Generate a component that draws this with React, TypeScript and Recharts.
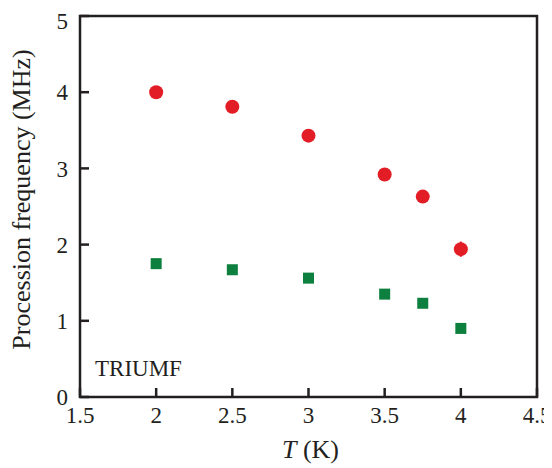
import React from "react";
import {
  ScatterChart,
  Scatter,
  XAxis,
  YAxis,
  ReferenceArea,
  Label,
  ErrorBar,
} from "recharts";

// Temperatures (K) at which the precession frequency was measured
const temperatures = [2.0, 2.5, 3.0, 3.5, 3.75, 4.0];
// Upper branch (red circles), MHz
const upperFreq = [4.0, 3.81, 3.43, 2.92, 2.63, 1.94];
const upperErr = [0, 0, 0, 0, 0, 0.1];
// Lower branch (green squares), MHz
const lowerFreq = [1.75, 1.67, 1.56, 1.35, 1.23, 0.9];

const xTicks = [1.5, 2, 2.5, 3, 3.5, 4, 4.5];
const yTicks = [0, 1, 2, 3, 4, 5];

const upperData = temperatures.map((t, i) => ({ t, f: upperFreq[i], err: upperErr[i] }));
const lowerData = temperatures.map((t, i) => ({ t, f: lowerFreq[i] }));

const INK = "#231f20";
const RED = "#e31d25";
const GREEN = "#0d7f3e";

const circleShape = (props: any) => (
  <circle cx={props.cx} cy={props.cy} r={7} fill={RED} />
);
const squareShape = (props: any) => (
  <rect x={props.cx - 5.5} y={props.cy - 5.5} width={11} height={11} fill={GREEN} />
);

// Text inherits the page's default serif face
export default function App() {
  return (
    <ScatterChart
      width={544}
      height={460}
      margin={{ top: 8, right: 15, bottom: 0, left: 0 }}
    >
      <XAxis
        type="number"
        dataKey="t"
        domain={[1.5, 4.5]}
        ticks={xTicks}
        allowDataOverflow
        height={71}
        axisLine={false}
        tickSize={-9}
        tickMargin={19}
        tickLine={{ stroke: INK, strokeWidth: 2.5 }}
        tick={{ fill: INK, fontSize: 23 }}
        tickFormatter={(v: number) => String(v)}
      >
        <Label
          content={(p: any) => {
            const vb = p.viewBox;
            return (
              <text
                x={vb.x + vb.width / 2 + 2}
                y={vb.y + 61}
                textAnchor="middle"
                fill={INK}
                fontSize={26}
              >
                <tspan fontStyle="italic">T</tspan>
                <tspan> (K)</tspan>
              </text>
            );
          }}
        />
      </XAxis>
      <XAxis
        xAxisId="top"
        orientation="top"
        type="number"
        dataKey="t"
        domain={[1.5, 4.5]}
        ticks={xTicks}
        allowDataOverflow
        height={0}
        axisLine={false}
        tickSize={9}
        tick={false}
        tickLine={{ stroke: INK, strokeWidth: 2.5 }}
      />
      <YAxis
        type="number"
        dataKey="f"
        domain={[0, 5]}
        ticks={yTicks}
        allowDataOverflow
        width={72}
        axisLine={false}
        tickSize={-9}
        tickMargin={21}
        tickLine={{ stroke: INK, strokeWidth: 2.5 }}
        tick={{ fill: INK, fontSize: 23 }}
      >
        <Label
          content={(p: any) => {
            const vb = p.viewBox;
            const x = 22;
            const y = vb.y + vb.height / 2 - 7;
            return (
              <text
                x={x}
                y={y}
                transform={`rotate(-90, ${x}, ${y})`}
                textAnchor="middle"
                fill={INK}
                fontSize={26}
              >
                Procession frequency (MHz)
              </text>
            );
          }}
        />
      </YAxis>
      <YAxis
        yAxisId="right"
        orientation="right"
        type="number"
        dataKey="f"
        domain={[0, 5]}
        ticks={yTicks}
        allowDataOverflow
        width={0}
        axisLine={false}
        tickSize={9}
        tick={false}
        tickLine={{ stroke: INK, strokeWidth: 2.5 }}
      />
      <ReferenceArea
        x1={1.5}
        x2={4.5}
        y1={0}
        y2={5}
        fill="none"
        fillOpacity={0}
        stroke={INK}
        strokeWidth={2.5}
        ifOverflow="visible"
      >
        <Label
          content={(p: any) => {
            const vb = p.viewBox;
            return (
              <text
                x={vb.x + 15}
                y={vb.y + vb.height - 21}
                fill={INK}
                fontSize={23}
              >
                TRIUMF
              </text>
            );
          }}
        />
      </ReferenceArea>
      <Scatter
        data={lowerData}
        dataKey="f"
        shape={squareShape}
        isAnimationActive={false}
      />
      <Scatter
        data={upperData}
        dataKey="f"
        shape={circleShape}
        isAnimationActive={false}
      >
        <ErrorBar dataKey="err" direction="y" width={0} stroke={RED} strokeWidth={2} />
      </Scatter>
    </ScatterChart>
  );
}
